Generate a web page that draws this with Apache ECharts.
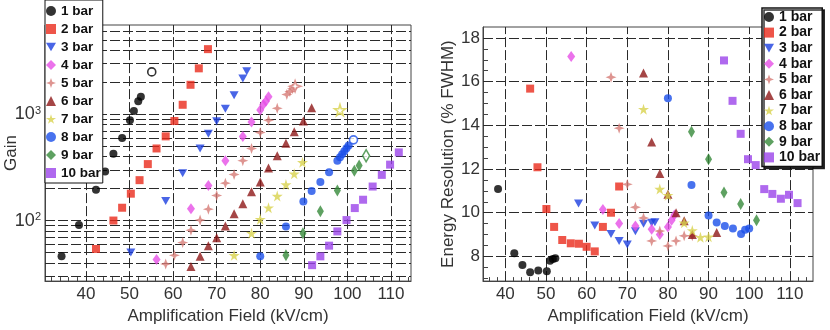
<!DOCTYPE html>
<html><head><meta charset="utf-8">
<script src="https://cdn.jsdelivr.net/npm/echarts@6/dist/echarts.min.js"></script>
<style>html,body{margin:0;padding:0;background:#fff}#c{width:830px;height:330px}</style>
</head><body><div id="c"></div>
<script>
// ---------- data ----------
const seriesNames = ['1 bar','2 bar','3 bar','4 bar','5 bar','6 bar','7 bar','8 bar','9 bar','10 bar'];
// Gain vs Amplification Field (kV/cm)
const g1 = [[34.4,46],[38.4,91],[42.3,195],[44.4,289],[46.3,425],[48.3,597],[50.1,881],[51,1074],[52,1330],[52.6,1463]];
const g2 = [[42.3,54],[46.3,100],[48.3,132],[50.3,179],[52.3,240],[54.2,340],[56.2,477],[58.3,620],[60.3,866],[62.2,1230],[64,1897],[65.9,2710],[68,4110]];
const g3 = [[50.3,50],[58.3,153],[62.2,279],[66.2,477],[68.1,655],[70,860],[72,1130],[74,1515],[76,2170],[76.9,2540]];
const g4 = [[56.2,43],[64.1,129],[68.1,214],[72,366],[76,617],[78,847],[80,1097],[80.7,1240],[81.3,1330],[81.9,1463]];
const g5 = [[58.3,39],[60.3,47],[62.2,62],[64.1,81],[66.2,101],[68.1,128],[70,172],[72,225],[74,271],[76,366],[78,477],[80,674],[81.9,879],[83.9,1138],[86.1,1537],[86.8,1640],[87.4,1740]];
const g6 = [[64.1,37],[66.2,46],[68.1,58],[70,69],[72,89],[74,116],[76,144],[78,187],[80,230],[81.9,313],[83.9,408],[85.9,535],[87.8,684],[89.9,866],[91.8,1155]];
const g7 = [[74,47],[78,76],[80,103],[81.9,132],[83.9,170],[85.9,218],[87.8,275],[89.7,353]];
const g8 = [[80,46],[85.9,88],[89.9,151],[91.8,190],[93.8,230],[95.8,285],[97.7,366],[98.3,395],[98.8,420],[99.3,450],[99.8,480],[100.3,510]];
const g9 = [[85.9,47],[89.8,76],[93.8,122],[97.7,192],[101.6,295],[102.7,329]];
const g10 = [[91.9,38],[93.8,46],[95.8,58],[97.7,79],[99.8,101],[101.7,131],[103.6,157],[105.8,209],[107.9,269],[109.8,336],[111.8,438]];
// open (hollow) markers
const g1open = [[55.1,2510]];
const g5open = [[88,1840]];
const g7open = [[98.3,1097]];
const g8open = [[101.4,575]];
const g9open = [[104.3,408]];
// Energy resolution (% FWHM) vs field
const r1 = [[38.2,11.08],[42.2,8.15],[44.2,7.61],[46.1,7.28],[48.1,7.35],[50.2,7.32],[51,7.8],[51.7,7.88],[52.3,7.92]];
const r2 = [[46.1,15.68],[47.9,12.08],[50.1,10.17],[52,9.35],[54,8.75],[56.1,8.6],[58.1,8.58],[60,8.44],[62,8.23],[64,9.35],[66,10.0],[68,11.2]];
const r3 = [[58,10.42],[62,9.42],[66,9.03],[68,8.71],[70,8.54],[72,9.15],[74,9.5],[76,9.54],[76.8,9.56]];
const r4 = [[56.2,17.15],[64,10.15],[68,9.51],[72,9.39],[76,9.24],[78,9.0],[80,9.35],[80.9,9.65],[81.6,9.9]];
const r5 = [[66,16.2],[68,13.87],[70,11.3],[72,10.25],[74,9.76],[76,8.71],[78,9.16],[80,8.48],[82,8.71],[84,8.94],[86,8.94]];
const r6 = [[74,16.4],[76,13.24],[78,11.8],[80,10.85],[82,10.0],[84,9.63],[86,9.0],[92,9.09]];
const r7 = [[74,14.74],[78,11.08],[80,10.8],[84,9.54],[86,9.19],[88,8.88],[90,8.9]];
const r8 = [[80,15.24],[85.8,11.27],[90,9.87],[92,9.55],[94,9.39],[96,9.28],[98,9.03],[99,9.22],[100,9.28]];
const r9 = [[85.8,13.71],[90,12.45],[93.8,10.93],[97.9,10.4],[101.8,9.65]];
const r10 = [[93.8,16.97],[95.9,15.12],[97.9,13.61],[99.7,12.45],[101.6,12.18],[103.7,11.08],[105.7,10.86],[107.8,10.64],[109.8,10.82],[111.9,10.44]];
// axis ticks / labels / grid values
const fieldLabels = [40,50,60,70,80,90,100,110];
const fieldTicksL = [32,34,36,38,40,42,44,46,48,50,52,54,56,58,60,62,64,66,68,70,72,74,76,78,80,82,84,86,88,90,92,94,96,98,100,102,104,106,108,110,112,114];
const fieldTicksR = [36,38,40,42,44,46,48,50,52,54,56,58,60,62,64,66,68,70,72,74,76,78,80,82,84,86,88,90,92,94,96,98,100,102,104,106,108,110,112,114];
const gainGrid = [30,40,50,60,70,80,90,100,200,300,400,500,600,700,800,900,1000,2000,3000,4000,5000,6000];
const gainLabelExp = [2,3];
const resLabels = [8,10,12,14,16,18];
const resTicks = [7,7.5,8,8.5,9,9.5,10,10.5,11,11.5,12,12.5,13,13.5,14,14.5,15,15.5,16,16.5,17,17.5,18];

// ---------- styles ----------
const colors = ['#000000','#ea2a1c','#1c3ee0','#e64fe6','#d67a76','#8e1818','#d8d24c','#1a4fea','#368a3a','#9b44ea'];
const star = 'path://M50,0 L61,35 L98,35 L68,57 L79,91 L50,70 L21,91 L32,57 L2,35 L39,35 Z';
const cross4 = 'path://M50,0 L63,37 L100,50 L63,63 L50,100 L37,63 L0,50 L37,37 Z';
const downTri = 'path://M0,0 L100,0 L50,87 Z';
const symbols = ['circle','rect',downTri,'diamond',cross4,'triangle',star,'circle','diamond','rect'];
const sizes = [8,8,[9,8],[8,11],11,9,11,8,[7,12],8];
const FONT = '"Liberation Sans", Arial, sans-serif';
const TXT = '#333';
const gridLine = {color:'#2a2a2a', width:1, type:[10,3]};

function mk(name, data, gi, k, open) {
  return {
    type:'scatter', name: name, data: data, xAxisIndex: gi, yAxisIndex: gi,
    symbol: symbols[k], symbolSize: sizes[k], z: 3, silent: true,
    itemStyle: open ? {color:'#fff', borderColor: colors[k], borderWidth:1.6} : {color: colors[k]}
  };
}
function gridSeries(gi, xs, ys) {
  return {
    type:'scatter', name:'grid'+gi, data:[], xAxisIndex:gi, yAxisIndex:gi, silent:true,
    markLine: {silent:true, symbol:['none','none'], z:1, label:{show:false}, lineStyle:gridLine, animation:false,
      data: xs.map(v=>({xAxis:v})).concat(ys.map(v=>({yAxis:v})))}
  };
}
const gainSets = [g1,g2,g3,g4,g5,g6,g7,g8,g9,g10];
const resSets = [r1,r2,r3,r4,r5,r6,r7,r8,r9,r10];
const series = [gridSeries(0, fieldLabels, gainGrid), gridSeries(1, fieldLabels, resLabels)];
gainSets.forEach((d,k)=>series.push(mk(seriesNames[k], d, 0, k)));
resSets.forEach((d,k)=>series.push(mk(seriesNames[k], d, 1, k)));
series.push(mk('1 bar open', g1open, 0, 0, true));
series.push(mk('5 bar open', g5open, 0, 4, true));
series.push(mk('7 bar open', g7open, 0, 6, true));
series.push(mk('8 bar open', g8open, 0, 7, true));
series.push(mk('9 bar open', g9open, 0, 8, true));

function xAxis(gi, min, max, ticks) {
  return {
    type:'value', gridIndex: gi, min: min, max: max,
    name:'Amplification Field (kV/cm)', nameLocation:'middle', nameGap:24,
    nameTextStyle:{fontSize:17, color:TXT, fontFamily:FONT},
    axisLine:{show:true, onZero:false, lineStyle:{color:'#444'}},
    axisTick:{show:true, inside:true, length:4, customValues: ticks, lineStyle:{color:'#444'}},
    axisLabel:{customValues: fieldLabels, fontSize:17, color:TXT, fontFamily:FONT, margin:5},
    splitLine:{show:false}
  };
}
const legendData = seriesNames.map(n=>({name:n}));
const legendBase = {
  data: legendData, orient:'vertical', itemWidth:10, itemHeight:10, selectedMode:false,
  backgroundColor:'#fff', borderColor:'#111', borderWidth:1,
  textStyle:{fontSize:14, fontWeight:'bold', color:'#111', fontFamily:FONT, lineHeight:14}
};

const option = {
  animation:false,
  textStyle:{fontFamily:FONT},
  grid:[
    {left:45, top:25, width:366, height:258, show:true, borderColor:'#444', borderWidth:1, backgroundColor:'transparent'},
    {left:483, top:27, width:330, height:257, show:true, borderColor:'#444', borderWidth:1, backgroundColor:'transparent'}
  ],
  legend:[
    Object.assign({}, legendBase, {left:45, top:0, itemGap:4, padding:[4,2,3,1],
      textStyle:{fontSize:13.5, fontWeight:'bold', color:'#111', fontFamily:FONT, lineHeight:14}}),
    Object.assign({}, legendBase, {left:762, top:8, itemGap:1.6, padding:[2,2,2,2], borderWidth:1.5,
      shadowColor:'rgba(0,0,0,0.8)', shadowOffsetX:2, shadowOffsetY:2, shadowBlur:0})
  ],
  xAxis:[ xAxis(0, 30.6, 114.6, fieldTicksL), xAxis(1, 34.5, 115.7, fieldTicksR) ],
  yAxis:[
    {type:'log', logBase:10, gridIndex:0, min:26.9, max:6935,
     name:'Gain', nameLocation:'middle', nameGap:25, nameMoveOverlap:false,
     nameTextStyle:{fontSize:17, color:TXT, fontFamily:FONT},
     axisLine:{show:true, lineStyle:{color:'#444'}}, axisTick:{show:false},
     splitLine:{show:false}, minorTick:{show:false},
     axisLabel:{margin:4, fontFamily:FONT, align:'right',
       formatter: function(v){ const l = Math.log10(v); const e = Math.round(l);
         if (Math.abs(l-e) < 1e-6 && gainLabelExp.indexOf(e) >= 0) return '{b|10}{s|' + e + '}'; return ''; },
       rich:{ b:{fontSize:18, color:TXT, fontFamily:FONT}, s:{fontSize:11, color:TXT, fontFamily:FONT, verticalAlign:'top'} } }
    },
    {type:'value', gridIndex:1, min:6.87, max:18.5,
     name:'Energy Resolution (% FWHM)', nameLocation:'middle', nameGap:26, nameMoveOverlap:false,
     nameTextStyle:{fontSize:17, color:TXT, fontFamily:FONT},
     axisLine:{show:true, onZero:false, lineStyle:{color:'#444'}},
     axisTick:{show:true, inside:true, length:5, customValues: resTicks, lineStyle:{color:'#444'}},
     axisLabel:{customValues: resLabels, fontSize:17, color:TXT, fontFamily:FONT, margin:3},
     splitLine:{show:false}
    }
  ],
  series: series
};
const chart = echarts.init(document.getElementById('c'), null, {renderer:'canvas'});
chart.setOption(option);
</script>
</body></html>
